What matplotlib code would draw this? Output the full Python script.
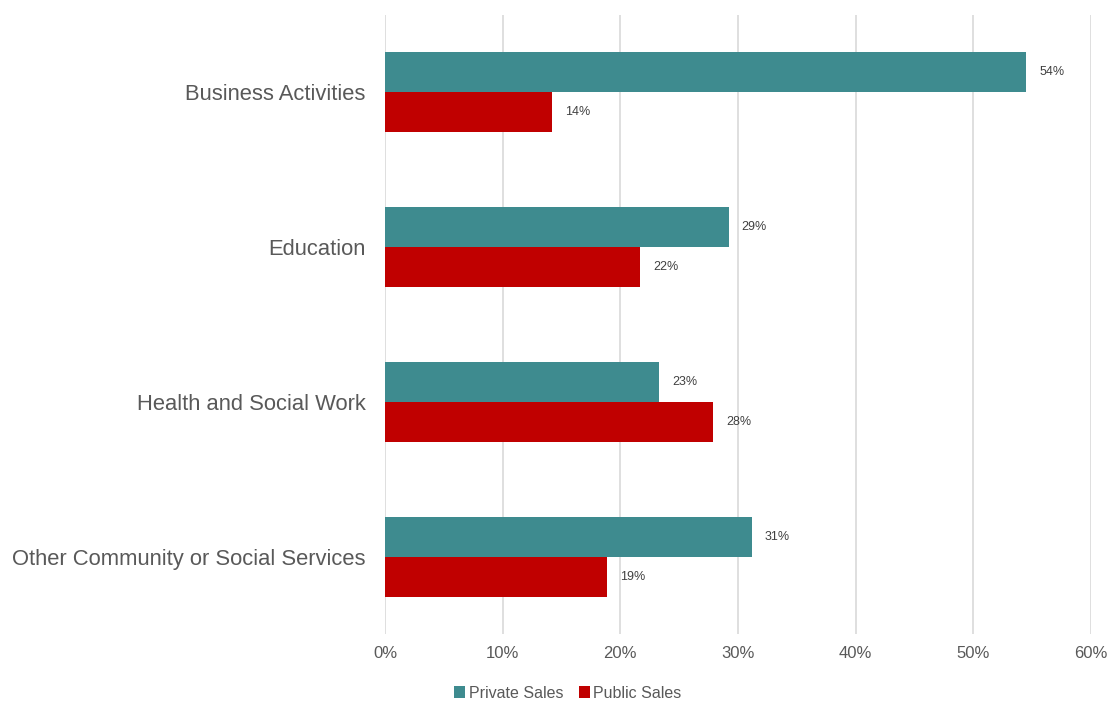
import matplotlib.pyplot as plt
import numpy as np

plt.rcParams['font.family'] = ['Liberation Sans', 'DejaVu Sans']

categories = ['Business Activities', 'Education', 'Health and Social Work',
              'Other Community or Social Services']
private_sales = [54.5, 29.2, 23.3, 31.2]
public_sales = [14.2, 21.7, 27.9, 18.9]
labels_private = ['54%', '29%', '23%', '31%']
labels_public = ['14%', '22%', '28%', '19%']

teal = '#3e8b8f'
red = '#c00000'
grey = '#595959'

fig = plt.figure(figsize=(11.12, 7.01), dpi=100)
ax = fig.add_axes([0.3462, 0.0949, 0.9811 - 0.3462, 0.9793 - 0.0949])

y = np.arange(len(categories))
h = 0.258
b1 = ax.barh(y - h / 2, private_sales, height=h, color=teal, label='Private Sales', zorder=3)
b2 = ax.barh(y + h / 2, public_sales, height=h, color=red, label='Public Sales', zorder=3)

for bars, labs in ((b1, labels_private), (b2, labels_public)):
    for bar, lab in zip(bars, labs):
        ax.text(bar.get_width() + 1.1, bar.get_y() + bar.get_height() / 2, lab,
                va='center', ha='left', fontsize=9, color='#404040')

ax.set_ylim(len(categories) - 0.5, -0.5)
ax.set_xlim(0, 60)
ax.set_xticks(np.arange(0, 61, 10))
ax.set_xticklabels([f'{v}%' for v in range(0, 61, 10)])
ax.set_yticks(y)
ax.set_yticklabels(categories)
ax.tick_params(axis='x', length=0, labelsize=12, colors=grey, pad=8)
ax.tick_params(axis='y', length=0, labelsize=15.8, colors=grey, pad=14)
ax.grid(axis='x', color='#d9d9d9', linewidth=1.2, zorder=0)
for s in ax.spines.values():
    s.set_visible(False)

fig.legend(handles=[b1, b2], loc='center', bbox_to_anchor=(568 / 1112, 1 - 693 / 701),
           ncol=2, frameon=False, fontsize=11.5, labelcolor=grey,
           handlelength=0.7, handleheight=0.7, handletextpad=0.2, columnspacing=1.0)

fig.savefig('out.png', dpi=100)
